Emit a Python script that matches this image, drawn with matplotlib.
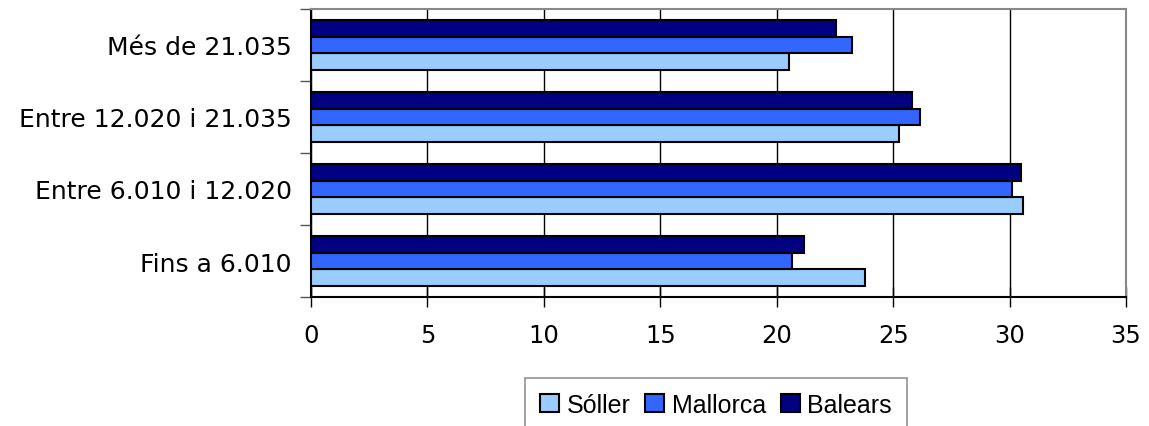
import numpy as np
import matplotlib
matplotlib.use('Agg')
import matplotlib.pyplot as plt
from matplotlib.patches import Patch

# Trams (de baix a dalt, com al gràfic)
categories = ['Fins a 6.010', 'Entre 6.010 i 12.020', 'Entre 12.020 i 21.035', 'Més de 21.035']
soller = [23.77, 30.56, 25.24, 20.54]
mallorca = [20.64, 30.09, 26.14, 23.24]
balears = [21.19, 30.49, 25.80, 22.54]
series_names = ['Sóller', 'Mallorca', 'Balears']
colors = ['#99CCFF', '#3366FF', '#000080']
xticks = [0, 5, 10, 15, 20, 25, 30, 35]

fig = plt.figure(figsize=(11.49, 4.27), dpi=100)
ax = fig.add_axes([311 / 1149, 1 - 298 / 427, (1126 - 311) / 1149, 288 / 427])

y = np.arange(len(categories))
h = 0.23
for i, (vals, col) in enumerate(zip([soller, mallorca, balears], colors)):
    ax.barh(y + (i - 1) * h, vals, height=h, color=col, edgecolor='black',
            linewidth=1.5, zorder=3)

ax.set_xlim(0, 35)
ax.set_ylim(-0.5, len(categories) - 0.5)
ax.set_xticks(xticks)
ax.set_xticklabels([str(t) for t in xticks], fontsize=17.5, family='DejaVu Sans')
ax.tick_params(axis='x', direction='inout', length=14, width=1, pad=12)

ax.set_yticks(y)
ax.set_yticklabels(categories, fontsize=18, family='DejaVu Sans')
ax.tick_params(axis='y', length=0, pad=14)
ax.set_yticks(np.arange(-0.5, len(categories)), minor=True)
ax.tick_params(axis='y', which='minor', length=8, width=1, color='#555555')

ax.grid(axis='x', color='black', linewidth=1, zorder=0)
ax.set_axisbelow(True)
for s in ['top', 'right']:
    ax.spines[s].set_color('#888888')
    ax.spines[s].set_linewidth(1.5)
for s in ['left', 'bottom']:
    ax.spines[s].set_color('black')
    ax.spines[s].set_linewidth(1.5)

handles = [Patch(facecolor=c, edgecolor='black', linewidth=1.5) for c in colors]
leg = fig.legend(handles, series_names, loc='upper center',
                 bbox_to_anchor=(716 / 1149, 1 - 379 / 427), ncol=3,
                 prop={'family': 'Liberation Sans', 'size': 18},
                 handlelength=0.75, handleheight=0.75, handletextpad=0.3,
                 columnspacing=0.6, borderpad=0.6, fancybox=False,
                 frameon=True, borderaxespad=0)
leg.get_frame().set_edgecolor('#777777')
leg.get_frame().set_linewidth(1.2)

fig.savefig('out.png', dpi=100)
